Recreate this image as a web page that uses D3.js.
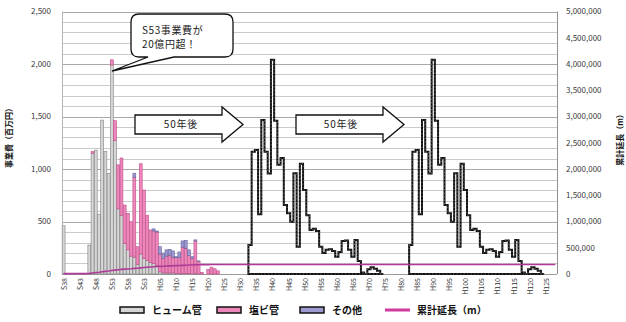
<!DOCTYPE html>
<html>
<head>
<meta charset="utf-8">
<script src="https://cdn.jsdelivr.net/npm/d3@7"></script>
<style>
  html, body { margin: 0; padding: 0; background: #fff; }
  svg { display: block; font-family: "Noto Sans CJK JP", "Noto Sans", sans-serif; }
</style>
</head>
<body>
<svg id="chart" width="626" height="322"></svg>
<script>
// Fiscal years on the category axis: S38 (1963) through H128 (2116)
const firstYear = 1963;
const lastYear = 2116;

// Annual construction cost by pipe type, 1963-2012 (million yen)
const humePipe = [460, 0, 0, 0, 0, 0, 0, 0, 276, 1150,
  1180, 570, 1466, 1165, 958, 1990, 1270, 620, 560, 290,
  230, 170, 160, 90, 190, 150, 130, 110, 100, 80,
  20, 10, 10, 10, 10, 5, 5, 5, 5, 5,
  0, 5, 0, 0, 0, 0, 0, 0, 0, 0];
const pvcPipe = [0, 0, 0, 0, 0, 0, 0, 0, 0, 15,
  0, 0, 0, 0, 0, 50, 190, 420, 545, 367,
  348, 328, 760, 170, 860, 650, 430, 310, 310, 320,
  170, 140, 160, 170, 150, 150, 150, 250, 240, 170,
  150, 310, 120, 15, 0, 45, 65, 50, 30, 0];
const otherPipe = [0, 0, 0, 0, 0, 0, 0, 0, 0, 0,
  0, 0, 0, 0, 0, 0, 0, 0, 0, 0,
  0, 0, 40, 0, 0, 0, 0, 0, 20, 10,
  70, 50, 60, 55, 60, 10, 55, 60, 75, 55,
  15, 10, 5, 0, 0, 0, 0, 0, 0, 0];

// Cumulative pipe length, 1963-2012 (m)
const cumulativeLength = [8000, 8000, 8000, 8000, 8000, 8000, 8000, 8000, 12000, 20000,
  28000, 32000, 42000, 50000, 56000, 66000, 74000, 81000, 88000, 92000,
  96000, 100000, 107000, 109000, 117000, 123000, 128000, 133000, 138000, 142000,
  146000, 149000, 152000, 155000, 158000, 160000, 162000, 165000, 168000, 170000,
  172000, 175000, 177000, 178000, 178000, 179000, 180000, 181000, 182000, 182000];

// Renewal cost profile (million yen) and the years each wave begins
const renewalStart = [2021, 2071];
const renewalCost = [276, 1165, 1180, 570, 1466, 1165, 958, 2040, 1460, 1040,
  1105, 657, 578, 498, 960, 260, 1050, 800, 560, 420,
  430, 410, 260, 200, 230, 235, 220, 165, 210, 315,
  320, 230, 165, 325, 125, 15, 0, 45, 65, 50,
  30, 0];

// Axis ticks and labels
const leftTicks = [0, 500, 1000, 1500, 2000, 2500];
const rightTicks = [0, 500000, 1000000, 1500000, 2000000, 2500000, 3000000, 3500000, 4000000, 4500000, 5000000];
const yearTickLabels = ["S38", "S43", "S48", "S53", "S58", "S63", "H05", "H10", "H15", "H20",
  "H25", "H30", "H35", "H40", "H45", "H50", "H55", "H60", "H65", "H70",
  "H75", "H80", "H85", "H90", "H95", "H100", "H105", "H110", "H115", "H120", "H125"];
const seriesNames = ["ヒューム管", "塩ビ管", "その他", "累計延長（m）"];

const colors = {
  hume: "#d6d6d6", humeEdge: "#808080",
  pvc: "#ec86bb", pvcEdge: "#bf4d88",
  other: "#9c9ad0", otherEdge: "#66649e",
  length: "#ae3a98", legendLine: "#cf3a9e"
};

const svg = d3.select("#chart");
const plot = { left: 62, right: 557, top: 11.5, bottom: 274 };

const years = d3.range(firstYear, lastYear + 1);
const x = d3.scaleBand().domain(years).range([plot.left, plot.right])
  .paddingInner(0.1).paddingOuter(0.05);
const step = x.step();
const edge = yr => x(yr) - (step - x.bandwidth()) / 2;
const y = d3.scaleLinear().domain([0, 2500]).range([plot.bottom, plot.top]);
const y2 = d3.scaleLinear().domain([0, 5000000]).range([plot.bottom, plot.top]);

// Horizontal gridlines every 100 million yen
const grid = svg.append("g");
grid.selectAll("line").data(d3.range(100, 2501, 100)).join("line")
  .attr("x1", plot.left).attr("x2", plot.right)
  .attr("y1", d => Math.round(y(d)) + 0.5).attr("y2", d => Math.round(y(d)) + 0.5)
  .attr("stroke", d => d % 500 === 0 ? "#a9a9a9" : "#cbcbcb")
  .attr("stroke-width", 1);

// Plot frame sides
svg.append("line").attr("x1", plot.left + 0.5).attr("x2", plot.left + 0.5)
  .attr("y1", plot.top).attr("y2", plot.bottom).attr("stroke", "#b5b5b5");
svg.append("line").attr("x1", plot.right + 0.5).attr("x2", plot.right + 0.5)
  .attr("y1", plot.top).attr("y2", plot.bottom).attr("stroke", "#8f8f8f");
svg.append("line").attr("x1", plot.left).attr("x2", plot.right)
  .attr("y1", plot.bottom + 0.5).attr("y2", plot.bottom + 0.5).attr("stroke", "#9a9a9a");

// Stacked construction-cost bars
const rows = humePipe.map((h, i) => ({ year: firstYear + i, hume: h, pvc: pvcPipe[i], other: otherPipe[i] }));
const stack = d3.stack().keys(["hume", "pvc", "other"])(rows);
const fillOf = { hume: colors.hume, pvc: colors.pvc, other: colors.other };
const edgeOf = { hume: colors.humeEdge, pvc: colors.pvcEdge, other: colors.otherEdge };
svg.append("g").selectAll("g").data(stack).join("g")
  .attr("fill", s => fillOf[s.key]).attr("stroke", s => edgeOf[s.key]).attr("stroke-width", 0.6)
  .selectAll("rect").data(s => s.filter(d => d[1] - d[0] > 0)).join("rect")
  .attr("x", d => x(d.data.year)).attr("width", x.bandwidth())
  .attr("y", d => y(d[1])).attr("height", d => y(d[0]) - y(d[1]));

// Renewal waves drawn as stepped outlines
const renewalArea = d3.area().curve(d3.curveStepAfter)
  .x(d => d.x).y0(y(0)).y1(d => y(d.v));
renewalStart.forEach(start => {
  const pts = renewalCost.map((v, i) => ({ x: edge(start + i), v }));
  pts.push({ x: edge(start + renewalCost.length - 1) + step, v: renewalCost[renewalCost.length - 1] });
  const d = renewalArea(pts);
  svg.append("path").attr("d", d).attr("fill", "none")
    .attr("stroke", "#111").attr("stroke-width", 2).attr("stroke-linejoin", "miter");
  svg.append("path").attr("d", d).attr("fill", "none")
    .attr("stroke", "#fff").attr("stroke-width", 0.45).attr("stroke-opacity", 0.85)
    .attr("stroke-dasharray", "1,2.5");
});

// Cumulative length line, held at its final value after construction ends
const lengthPts = cumulativeLength.map((v, i) => [x(firstYear + i) + x.bandwidth() / 2, y2(v)]);
lengthPts.push([x(lastYear) + x.bandwidth() / 2, y2(cumulativeLength[cumulativeLength.length - 1])]);
svg.append("path").attr("d", d3.line()(lengthPts)).attr("fill", "none")
  .attr("stroke", colors.length).attr("stroke-width", 1.6);

// Left axis
svg.append("g").selectAll("text").data(leftTicks).join("text")
  .attr("x", 51).attr("y", d => y(d)).attr("dy", "0.35em")
  .attr("text-anchor", "end").attr("font-size", 8).attr("fill", "#3a3a3a")
  .text(d => d3.format(",")(d));
// Right axis
svg.append("g").selectAll("text").data(rightTicks).join("text")
  .attr("x", 566).attr("y", d => y2(d)).attr("dy", "0.35em")
  .attr("text-anchor", "start").attr("font-size", 8).attr("fill", "#3a3a3a")
  .text(d => d3.format(",")(d));

// Category labels every five years
svg.append("g").selectAll("text").data(yearTickLabels).join("text")
  .attr("transform", (d, i) => `translate(${x(firstYear + i * 5) + x.bandwidth() / 2 + 0.5},278) rotate(-90)`)
  .attr("text-anchor", "end").attr("dy", "0.35em")
  .attr("font-size", 7).attr("fill", "#333")
  .text(d => d);

// Axis titles
svg.append("text").attr("transform", "translate(9,136) rotate(-90)")
  .attr("text-anchor", "middle").attr("dy", "0.35em")
  .attr("font-size", 8).attr("font-weight", "bold").attr("fill", "#111")
  .text("事業費（百万円）");
svg.append("text").attr("transform", "translate(620,138) rotate(-90)")
  .attr("text-anchor", "middle").attr("dy", "0.35em")
  .attr("font-size", 8).attr("font-weight", "bold").attr("fill", "#111")
  .text(seriesNames[3]);

// Callout pointing at the S53 peak
const callout = svg.append("g");
callout.append("path")
  .attr("d", "M139,14 H225 Q233,14 233,22 V49 Q233,57 225,57 H174 L112,71 L148,57 H139 Q131,57 131,49 V22 Q131,14 139,14 Z")
  .attr("fill", "#fff").attr("stroke", "#111").attr("stroke-width", 1.3);
callout.append("text").attr("x", 142).attr("y", 34).attr("font-size", 10).attr("fill", "#222")
  .attr("letter-spacing", 0.6).text("S53事業費が");
callout.append("text").attr("x", 142).attr("y", 48).attr("font-size", 10).attr("fill", "#222")
  .attr("letter-spacing", 0.6).text("20億円超！");

// Block arrows marking the 50-year shift
[{ x0: 135, label: 181 }, { x0: 296, label: 341 }].forEach(a => {
  const g = svg.append("g");
  g.append("path")
    .attr("d", `M${a.x0},115 H${a.x0 + 87} V107 L${a.x0 + 108},124.5 L${a.x0 + 87},142 V134 H${a.x0} Z`)
    .attr("fill", "#fff").attr("stroke", "#111").attr("stroke-width", 1.3);
  g.append("text").attr("x", a.label).attr("y", 124.5).attr("dy", "0.35em")
    .attr("text-anchor", "middle").attr("font-size", 10).attr("fill", "#222")
    .attr("letter-spacing", 0.8).text("50年後");
});

// Legend
const legend = svg.append("g");
const swatches = [
  { x: 120, fill: colors.hume }, { x: 217, fill: colors.pvc }, { x: 300, fill: colors.other }
];
swatches.forEach((s, i) => {
  legend.append("rect").attr("x", s.x).attr("y", 307).attr("width", 24).attr("height", 6)
    .attr("fill", s.fill).attr("stroke", "#111").attr("stroke-width", 1.5);
  legend.append("text").attr("x", s.x + 32).attr("y", 310).attr("dy", "0.35em")
    .attr("font-size", 10).attr("font-weight", "bold").attr("fill", "#111").text(seriesNames[i]);
});
legend.append("line").attr("x1", 385).attr("x2", 410).attr("y1", 310).attr("y2", 310)
  .attr("stroke", colors.legendLine).attr("stroke-width", 3);
legend.append("text").attr("x", 417).attr("y", 310).attr("dy", "0.35em")
  .attr("font-size", 10).attr("font-weight", "bold").attr("fill", "#111").text(seriesNames[3]);
</script>
</body>
</html>
